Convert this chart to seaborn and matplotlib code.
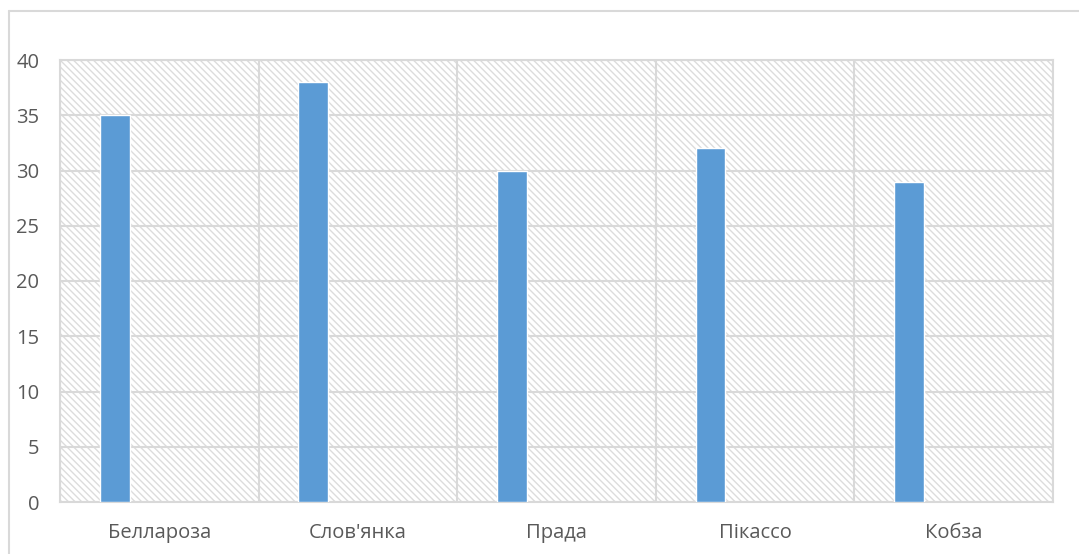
import matplotlib
matplotlib.use("Agg")
import matplotlib.pyplot as plt
import seaborn as sns
import pandas as pd
import numpy as np
from matplotlib.patches import Rectangle
from matplotlib.lines import Line2D

varieties = ["Белларoза", "Слов'янка", "Прада", "Пікассо", "Кобза"]
values = [35, 38, 30, 32, 29]
series_name = "Ряд1"
series_order = ["Ряд1", "Ряд2", "Ряд3", "Ряд4"]
yticks = [0, 5, 10, 15, 20, 25, 30, 35, 40]

df = pd.DataFrame({"variety": varieties, "value": values, "series": series_name})

sns.set_theme(style="white")
plt.rcParams["font.family"] = ["Open Sans", "DejaVu Sans"]
plt.rcParams["hatch.linewidth"] = 1.0
plt.rcParams["hatch.color"] = "#dcdcdc"

grid_c = "#d9d9d9"
text_c = "#595959"

fig = plt.figure(figsize=(10.79, 5.54), dpi=100)
ax = fig.add_axes([60/1079, 52/554, (1053-60)/1079, (502-60)/554])

sns.barplot(data=df, x="variety", y="value", hue="series", hue_order=series_order,
            order=varieties, palette=["#5b9bd5"] * 4, width=0.6, dodge=True,
            saturation=1, legend=False, ax=ax, zorder=3)

ax.add_patch(Rectangle((0, 0), 1, 1, transform=ax.transAxes, facecolor="white",
                       edgecolor="#dcdcdc", hatch="\\\\\\\\\\", linewidth=0, zorder=0.1))

n = len(varieties)
ax.set_xlim(-0.5, n - 0.5)
ax.set_ylim(yticks[0], yticks[-1])
ax.set_yticks(yticks)
ax.set_xticks(range(n))
ax.set_xticklabels(varieties)
ax.set_xticks(np.arange(n + 1) - 0.5, minor=True)
ax.set_axisbelow(True)
ax.grid(axis="y", which="major", color=grid_c, linewidth=1.5)
ax.grid(axis="x", which="minor", color=grid_c, linewidth=1.5)
ax.grid(axis="x", which="major", visible=False)
ax.tick_params(axis="both", which="both", length=0, labelsize=14.5, colors=text_c)
ax.tick_params(axis="y", pad=15)
ax.tick_params(axis="x", pad=15)
ax.set_xlabel("")
ax.set_ylabel("")
for s in ax.spines.values():
    s.set_visible(True)
    s.set_color(grid_c)
    s.set_linewidth(1.5)

fig.add_artist(Line2D([9/1079, 9/1079], [0, 1 - 11/554], transform=fig.transFigure,
                      color=grid_c, linewidth=1.5))
fig.add_artist(Line2D([9/1079, 1], [1 - 11/554, 1 - 11/554], transform=fig.transFigure,
                      color=grid_c, linewidth=1.5))

fig.savefig("out.png", dpi=100)
